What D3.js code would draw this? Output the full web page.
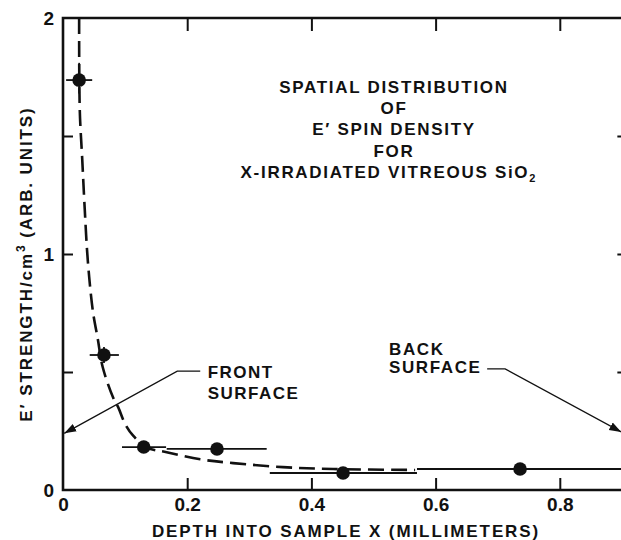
<!DOCTYPE html>
<html>
<head>
<meta charset="utf-8">
<script src="https://cdn.jsdelivr.net/npm/d3@7"></script>
<style>
  html, body { margin: 0; padding: 0; background: #fff; }
  svg { display: block; }
  text { font-family: "Liberation Sans", Arial, sans-serif; font-weight: bold; fill: #111; }
</style>
</head>
<body>
<script>
// Measured E' spin density vs depth
const depth      = [0.026, 0.066, 0.130, 0.248, 0.451, 0.736];
const strength   = [1.737, 0.572, 0.182, 0.174, 0.072, 0.089];
const depthLow   = [0.005, 0.043, 0.095, 0.167, 0.333, 0.570];
const depthHigh  = [0.047, 0.090, 0.166, 0.328, 0.570, 0.902];
const strengthLow  = [1.68, 0.538, null, null, null, null];
const strengthHigh = [1.81, 0.606, null, null, null, null];

// Dashed guide curve through the measurements
const curveDepth    = [0.026, 0.027, 0.031, 0.035, 0.040, 0.048, 0.056, 0.064, 0.081, 0.089, 0.100, 0.113, 0.135, 0.167, 0.221, 0.274, 0.354, 0.435, 0.567];
const curveStrength = [2.00, 1.61, 1.40, 1.19, 0.97, 0.76, 0.64, 0.52, 0.39, 0.35, 0.28, 0.23, 0.18, 0.16, 0.13, 0.114, 0.097, 0.089, 0.085];

// Axis ticks
const xTicks = [0, 0.2, 0.4, 0.6, 0.8];
const xTickLabels = ["0", "0.2", "0.4", "0.6", "0.8"];
const yTicksMajor = [0, 1, 2];
const yTicksMinor = [0.5, 1, 1.5];

const titleLines = ["SPATIAL DISTRIBUTION", "OF", "E\u2032 SPIN DENSITY", "FOR", "X-IRRADIATED VITREOUS SiO"];

const W = 621, H = 540;
const svg = d3.select("body").append("svg").attr("width", W).attr("height", H);

const x = d3.scaleLinear().domain([0, 1]).range([63, 684]);
const y = d3.scaleLinear().domain([0, 2]).range([490, 18]);
const xRight = 0.912;

const ink = "#111";
const fontFam = "Liberation Sans, Arial, sans-serif";

// Frame
svg.append("path")
  .attr("d", `M${x(xRight)},${y(2)} H${x(0)} V${y(0)} H${x(xRight)}`)
  .attr("fill", "none").attr("stroke", ink).attr("stroke-width", 2.6);

// Bottom axis (ticks point inward)
const xAxis = d3.axisBottom(x).tickValues(xTicks)
  .tickFormat((d, i) => xTickLabels[i]).tickSizeInner(-12).tickSizeOuter(0).tickPadding(8);
const gx = svg.append("g").attr("transform", `translate(0,${y(0)})`).call(xAxis);
gx.select(".domain").remove();
gx.selectAll(".tick line").attr("stroke", ink).attr("stroke-width", 2)
  .filter(d => d === 0).remove();
gx.selectAll(".tick text").attr("font-size", 19).attr("font-family", fontFam)
  .attr("font-weight", "bold").attr("fill", ink);

// Top axis ticks
const gTop = svg.append("g").attr("transform", `translate(0,${y(2)})`)
  .call(d3.axisTop(x).tickValues(xTicks.filter(d => d > 0)).tickSizeInner(-13).tickSizeOuter(0).tickFormat(""));
gTop.select(".domain").remove();
gTop.selectAll(".tick line").attr("stroke", ink).attr("stroke-width", 2);

// Left axis
const gy = svg.append("g").attr("transform", `translate(${x(0)},0)`)
  .call(d3.axisLeft(y).tickValues(yTicksMajor).tickFormat(d3.format("d")).tickSize(0).tickPadding(9));
gy.select(".domain").remove();
gy.selectAll(".tick text").attr("font-size", 19).attr("font-family", fontFam)
  .attr("font-weight", "bold").attr("fill", ink);
const gyMinor = svg.append("g").attr("transform", `translate(${x(0)},0)`)
  .call(d3.axisLeft(y).tickValues(yTicksMinor).tickSizeInner(-10).tickSizeOuter(0).tickFormat(""));
gyMinor.select(".domain").remove();
gyMinor.selectAll(".tick line").attr("stroke", ink).attr("stroke-width", 2);

// Right axis ticks
const gRight = svg.append("g").attr("transform", `translate(${x(xRight)},0)`)
  .call(d3.axisRight(y).tickValues(yTicksMinor).tickSizeInner(-12).tickSizeOuter(0).tickFormat(""));
gRight.select(".domain").remove();
gRight.selectAll(".tick line").attr("stroke", ink).attr("stroke-width", 2);

// Dashed curve
const curvePts = curveDepth.map((d, i) => [x(d), y(curveStrength[i])]);
svg.append("path")
  .attr("d", d3.line().curve(d3.curveCatmullRom.alpha(0.5))(curvePts))
  .attr("fill", "none").attr("stroke", ink).attr("stroke-width", 2.6)
  .attr("stroke-dasharray", "16,7");

// Error bars
const pts = depth.map((d, i) => ({ d, s: strength[i], lo: depthLow[i], hi: depthHigh[i], slo: strengthLow[i], shi: strengthHigh[i] }));
svg.append("g").selectAll("line").data(pts).join("line")
  .attr("x1", p => x(p.lo)).attr("x2", p => x(p.hi))
  .attr("y1", p => y(p.s)).attr("y2", p => y(p.s))
  .attr("stroke", ink).attr("stroke-width", 1.8);
svg.append("g").selectAll("line").data(pts.filter(p => p.slo !== null)).join("line")
  .attr("x1", p => x(p.d)).attr("x2", p => x(p.d))
  .attr("y1", p => y(p.slo)).attr("y2", p => y(p.shi))
  .attr("stroke", ink).attr("stroke-width", 1.8);

// Data points
svg.append("g").selectAll("circle").data(pts).join("circle")
  .attr("cx", p => x(p.d)).attr("cy", p => y(p.s)).attr("r", 6.8).attr("fill", ink);

// Arrow marker
svg.append("defs").append("marker")
  .attr("id", "arrow").attr("viewBox", "0 0 10 10").attr("refX", 10).attr("refY", 5)
  .attr("markerWidth", 12).attr("markerHeight", 12).attr("markerUnits", "userSpaceOnUse")
  .attr("orient", "auto")
  .append("path").attr("d", "M0,1.5 L10,5 L0,8.5 Z").attr("fill", ink);

// Front surface annotation
svg.append("path")
  .attr("d", `M${x(0.221)},${y(0.504)} H${x(0.184)} L${x(0.002)},${y(0.24)}`)
  .attr("fill", "none").attr("stroke", ink).attr("stroke-width", 1.3).attr("marker-end", "url(#arrow)");
const front = svg.append("text").attr("font-size", 17).attr("letter-spacing", 1.5);
front.append("tspan").attr("x", x(0.233)).attr("y", y(0.475)).text("FRONT");
front.append("tspan").attr("x", x(0.233)).attr("y", y(0.386)).text("SURFACE");

// Back surface annotation
svg.append("path")
  .attr("d", `M${x(0.683)},${y(0.513)} H${x(0.712)} L${x(0.899)},${y(0.246)}`)
  .attr("fill", "none").attr("stroke", ink).attr("stroke-width", 1.3).attr("marker-end", "url(#arrow)");
const back = svg.append("text").attr("font-size", 17).attr("letter-spacing", 1.6);
back.append("tspan").attr("x", x(0.525)).attr("y", y(0.572)).text("BACK");
back.append("tspan").attr("x", x(0.525)).attr("y", y(0.496)).text("SURFACE");

// Title block
const title = svg.append("text").attr("font-size", 17).attr("letter-spacing", 1.7).attr("text-anchor", "middle");
const titleBase = [93, 114, 135, 157, 178];
titleLines.forEach((t, i) => {
  title.append("tspan").attr("x", i === 4 ? 388 : 394).attr("y", titleBase[i]).text(t);
});
title.append("tspan").attr("font-size", 11).attr("letter-spacing", 0).attr("dy", 4).text("2");

// Axis titles
svg.append("text").attr("font-size", 17).attr("letter-spacing", 1.9).attr("text-anchor", "middle")
  .attr("x", 346).attr("y", 537)
  .text("DEPTH INTO SAMPLE  X (MILLIMETERS)");

const ylab = svg.append("text").attr("font-size", 17).attr("letter-spacing", 1.9).attr("text-anchor", "middle")
  .attr("transform", "translate(32,264) rotate(-90)");
ylab.append("tspan").text("E\u2032 STRENGTH/cm");
ylab.append("tspan").attr("font-size", 12).attr("letter-spacing", 1).attr("dy", -7).text("3");
ylab.append("tspan").attr("dy", 7).text(" (ARB. UNITS)");
</script>
</body>
</html>
